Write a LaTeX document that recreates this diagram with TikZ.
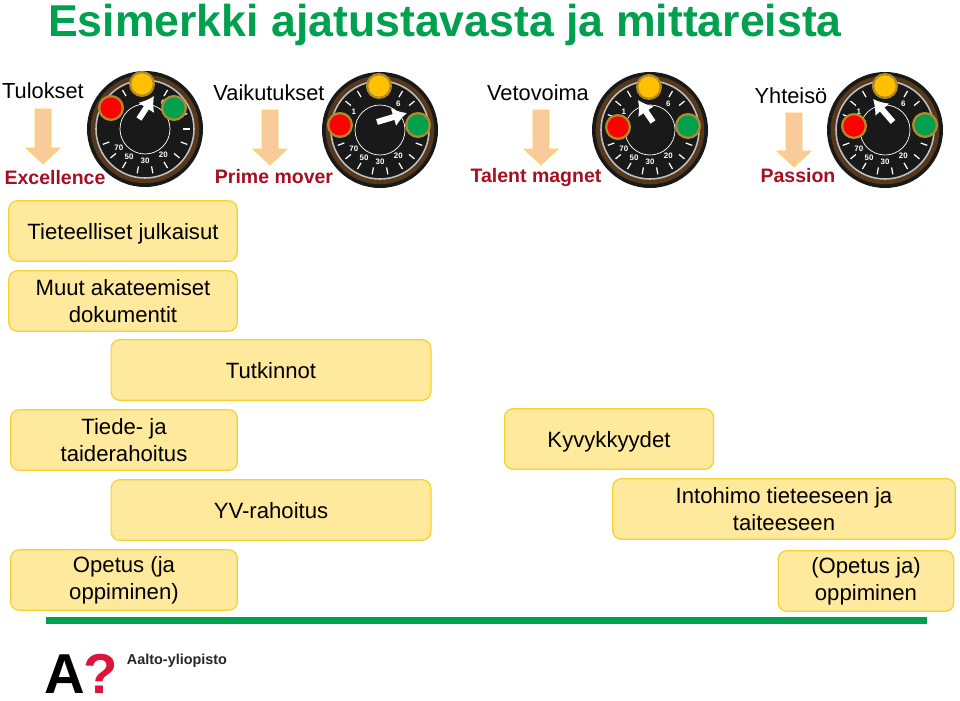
\documentclass[tikz,border=0pt]{standalone}
\usepackage{fontspec}
\usetikzlibrary{arrows.meta}
\setmainfont{Liberation Sans}
\definecolor{boxfill}{HTML}{FFE99C}
\definecolor{boxline}{HTML}{F5D033}
\definecolor{aaltogreen}{HTML}{00A04F}
\definecolor{darkred}{HTML}{A50F21}
\definecolor{downfill}{HTML}{F9CB9C}
\definecolor{ringbrown}{HTML}{B08A2A}
\definecolor{lampyellow}{HTML}{FFC000}
\definecolor{aaltored}{HTML}{DC143C}
\tikzset{
  every node/.style={inner sep=0pt, outer sep=0pt},
  goalbox/.style={draw=boxline, fill=boxfill, line width=0.7pt, rounded corners=5pt, align=center, minimum height=34.5pt, font=\fontsize{12.6}{15.4}\selectfont},
  oneline/.style={text height=9.8pt, text depth=0pt},
  headtext/.style={font=\fontsize{12.4}{15}\selectfont, anchor=center},
  subtext/.style={font=\fontsize{11.1}{14}\selectfont\bfseries, text=darkred, anchor=center},
  lamp/.style={circle, draw=ringbrown, line width=1.3pt, minimum size=13.5pt},
  dialnumber/.style={font=\fontsize{4.5}{5}\selectfont\bfseries, text=white}
}
\begin{document}
\begin{tikzpicture}[x=0.02cm,y=-0.02cm]
\useasboundingbox (0,0) rectangle (960,700);

\node[font=\fontsize{25.4}{28}\selectfont\bfseries, text=aaltogreen, anchor=center] (title) at (445,25) {Esimerkki ajatustavasta ja mittareista};

% mittarit
\foreach \x/\y/\tipx/\tipy/\tailx/\taily/\name in {145/129/154/96/139/119/a, 380/130/407/113/377/122/b, 650/130/638/100/653/122/c, 885/130/873/99/893/122/d} {
  \fill[black!90] (\x,\y) circle (58);
  \draw[black!55!brown, line width=2.6pt] (\x,\y) circle (52);
  \draw[black!25, line width=0.9pt] (\x,\y) circle (49);
  \draw[white, line width=0.4pt] (\x,\y) circle (25);
  \foreach \ang in {-160,-140,...,160} {\draw[white, line width=0.7pt] (\x,\y) ++(\ang:38) -- ++(\ang:7);}
  \foreach \ang/\num in {90/30, 55/20, 120/50, 145/70, -55/6, -145/1} {\node[dialnumber] (n\name\num) at ([shift={(\ang:32)}]\x,\y) {\num};}
  \coordinate (tail\name) at (\tailx,\taily);
  \coordinate (tip\name) at (\tipx,\tipy);
  \draw[white, line width=3.4pt, -{Latex[length=8pt,width=11pt]}] (tail\name) -- (tip\name);
}
\foreach \x/\y/\c/\name in {142/84/lampyellow/ya, 111/108/red/ra, 174/108/aaltogreen/ga,
  379/86/lampyellow/yb, 340/125/red/rb, 418/125/aaltogreen/gb,
  649/87/lampyellow/yc, 618/127/red/rc, 688/126/aaltogreen/gc,
  885/86/lampyellow/yd, 854/126/red/rd, 925/125/aaltogreen/gd} {
  \node[lamp, fill=\c] (\name) at (\x,\y) {};
}

% otsikot
\node[headtext] (tulokset) at (43,91) {Tulokset};
\node[headtext] (vaikutukset) at (269,93) {Vaikutukset};
\node[headtext] (vetovoima) at (538,93) {Vetovoima};
\node[headtext] (yhteiso) at (791,96) {Yhteisö};

% nuolet
\foreach \x/\ya/\yb in {43/109/164, 270/110/165, 541/110/165, 794/113/167} {
  \filldraw[fill=downfill, draw=lampyellow!70, line width=0.4pt] (\x-8,\ya) -- (\x+8,\ya) -- (\x+8,\yb-16) -- (\x+17,\yb-16) -- (\x,\yb) -- (\x-17,\yb-16) -- (\x-8,\yb-16) -- cycle;
}

\node[subtext] (excellence) at (55,178) {Excellence};
\node[subtext] (prime) at (274,177) {Prime mover};
\node[subtext] (talent) at (536,177) {Talent magnet};
\node[subtext] (passion) at (798,176) {Passion};

% laatikot
\node[goalbox, oneline, minimum width=130pt] (julkaisut) at (123,231) {Tieteelliset julkaisut};
\node[goalbox, minimum width=130pt] (muut) at (123,301) {Muut akateemiset\\dokumentit};
\node[goalbox, oneline, minimum width=182pt] (tutkinnot) at (271,370) {Tutkinnot};
\node[goalbox, minimum width=129pt] (rahoitus) at (124,440) {Tiede- ja\\taiderahoitus};
\node[goalbox, oneline, minimum width=119pt] (kyvykkyydet) at (609,439) {Kyvykkyydet};
\node[goalbox, oneline, minimum width=182pt] (yv) at (271,510) {YV-rahoitus};
\node[goalbox, minimum width=195pt] (intohimo) at (784,509) {Intohimo tieteeseen ja\\taiteeseen};
\node[goalbox, minimum width=129pt] (opetus) at (124,580) {Opetus (ja\\oppiminen)};
\node[goalbox, minimum width=100pt] (oppiminen) at (866,581) {(Opetus ja)\\oppiminen};

% alaviiva ja logo
\fill[aaltogreen] (46,617) rectangle (927,624);
\node[font=\fontsize{32}{32}\selectfont\bfseries, anchor=center] (logoa) at (65,674) {A};
\node[font=\fontsize{32}{32}\selectfont\bfseries, text=aaltored, anchor=center] (logoq) at (101,674) {?};
\node[font=\fontsize{8.2}{10}\selectfont\bfseries, text=black!85, anchor=center] (aalto) at (177,661) {Aalto-yliopisto};
\end{tikzpicture}
\end{document}
